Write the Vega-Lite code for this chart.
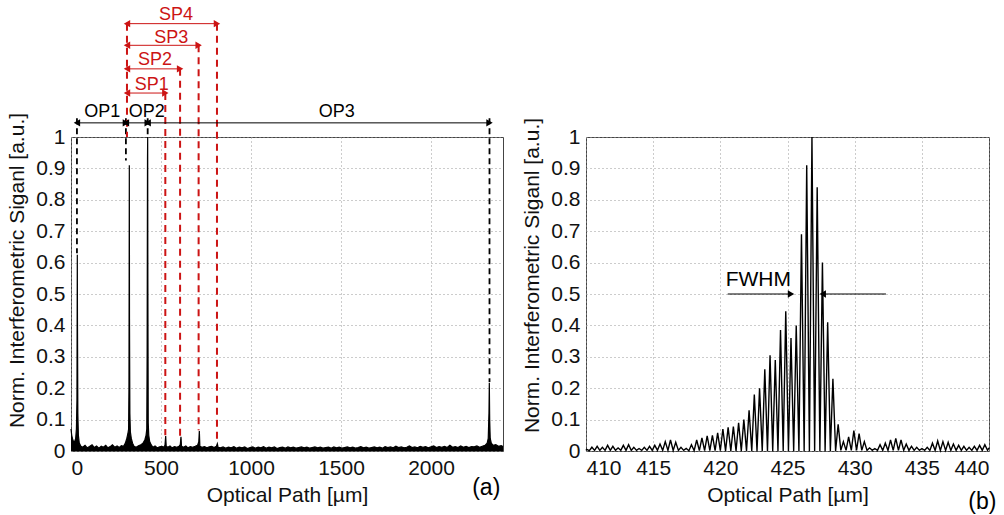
{
  "$schema": "https://vega.github.io/schema/vega-lite/v6.json",
  "background": "white",
  "padding": {"left": 6, "top": 5, "right": 5, "bottom": 5},
  "spacing": 15,
  "config": {
    "font": "Liberation Sans",
    "view": {"stroke": "#444", "strokeWidth": 1},
    "axis": {
      "labelFont": "Liberation Sans", "labelFontSize": 21, "labelColor": "#111", "labelOverlap": false,
      "titleFont": "Liberation Sans", "titleFontSize": 21, "titleFontWeight": "normal", "titleColor": "#111",
      "grid": true, "gridColor": "#999", "gridDash": [1, 3], "gridWidth": 1,
      "domain": false, "ticks": false, "labelPadding": 6
    }
  },
  "datasets": {
    "sigA": [
      {"x":0,"y":0.07},{"x":4,"y":0.05},{"x":8,"y":0.04},{"x":14,"y":0.03},{"x":20,"y":0.03},{"x":26,"y":0.04},{"x":30,"y":0.07},{"x":33,"y":0.16},{"x":35,"y":0.625},{"x":36,"y":0.41},{"x":38,"y":0.12},{"x":41,"y":0.05},{"x":46,"y":0.025},{"x":55,"y":0.015},{"x":65,"y":0.012},{"x":78,"y":0.018},{"x":90,"y":0.01},{"x":103,"y":0.014},{"x":117,"y":0.02},{"x":130,"y":0.011},{"x":142,"y":0.016},{"x":155,"y":0.009},{"x":168,"y":0.015},{"x":180,"y":0.012},{"x":193,"y":0.018},{"x":205,"y":0.01},{"x":218,"y":0.014},{"x":230,"y":0.02},{"x":243,"y":0.012},{"x":256,"y":0.016},{"x":268,"y":0.011},{"x":280,"y":0.017},{"x":292,"y":0.015},{"x":302,"y":0.025},{"x":310,"y":0.04},{"x":316,"y":0.055},{"x":320,"y":0.07},{"x":322,"y":0.2},{"x":323,"y":0.53},{"x":324,"y":0.91},{"x":325,"y":0.42},{"x":327,"y":0.12},{"x":330,"y":0.06},{"x":335,"y":0.04},{"x":342,"y":0.025},{"x":350,"y":0.015},{"x":362,"y":0.012},{"x":375,"y":0.017},{"x":388,"y":0.02},{"x":400,"y":0.025},{"x":410,"y":0.035},{"x":417,"y":0.05},{"x":421,"y":0.07},{"x":423,"y":0.32},{"x":425,"y":0.93},{"x":426,"y":1.0},{"x":427,"y":0.55},{"x":429,"y":0.09},{"x":432,"y":0.05},{"x":437,"y":0.03},{"x":445,"y":0.02},{"x":455,"y":0.012},{"x":467,"y":0.016},{"x":480,"y":0.01},{"x":492,"y":0.013},{"x":505,"y":0.015},{"x":515,"y":0.012},{"x":522,"y":0.018},{"x":526,"y":0.048},{"x":529,"y":0.015},{"x":538,"y":0.012},{"x":550,"y":0.016},{"x":562,"y":0.01},{"x":575,"y":0.014},{"x":588,"y":0.012},{"x":600,"y":0.015},{"x":607,"y":0.02},{"x":611,"y":0.045},{"x":614,"y":0.015},{"x":625,"y":0.012},{"x":638,"y":0.016},{"x":650,"y":0.01},{"x":663,"y":0.014},{"x":676,"y":0.012},{"x":690,"y":0.015},{"x":703,"y":0.018},{"x":710,"y":0.03},{"x":713,"y":0.064},{"x":716,"y":0.015},{"x":728,"y":0.012},{"x":742,"y":0.014},{"x":755,"y":0.01},{"x":768,"y":0.013},{"x":781,"y":0.015},{"x":795,"y":0.011},{"x":808,"y":0.015},{"x":813,"y":0.023},{"x":817,"y":0.012},{"x":830,"y":0.01},{"x":845,"y":0.013},{"x":860,"y":0.009},{"x":875,"y":0.012},{"x":890,"y":0.01},{"x":905,"y":0.014},{"x":920,"y":0.009},{"x":935,"y":0.012},{"x":950,"y":0.01},{"x":965,"y":0.013},{"x":980,"y":0.008},{"x":995,"y":0.011},{"x":1010,"y":0.013},{"x":1025,"y":0.009},{"x":1040,"y":0.012},{"x":1055,"y":0.01},{"x":1070,"y":0.014},{"x":1085,"y":0.009},{"x":1100,"y":0.012},{"x":1115,"y":0.01},{"x":1130,"y":0.013},{"x":1145,"y":0.008},{"x":1160,"y":0.011},{"x":1175,"y":0.012},{"x":1190,"y":0.009},{"x":1205,"y":0.013},{"x":1220,"y":0.01},{"x":1235,"y":0.012},{"x":1250,"y":0.009},{"x":1265,"y":0.011},{"x":1280,"y":0.013},{"x":1295,"y":0.01},{"x":1310,"y":0.012},{"x":1325,"y":0.009},{"x":1340,"y":0.011},{"x":1355,"y":0.013},{"x":1370,"y":0.01},{"x":1385,"y":0.012},{"x":1400,"y":0.009},{"x":1415,"y":0.011},{"x":1430,"y":0.012},{"x":1445,"y":0.009},{"x":1460,"y":0.013},{"x":1475,"y":0.01},{"x":1490,"y":0.012},{"x":1505,"y":0.009},{"x":1520,"y":0.011},{"x":1535,"y":0.013},{"x":1550,"y":0.01},{"x":1565,"y":0.012},{"x":1580,"y":0.009},{"x":1595,"y":0.011},{"x":1610,"y":0.014},{"x":1625,"y":0.01},{"x":1640,"y":0.012},{"x":1655,"y":0.009},{"x":1670,"y":0.011},{"x":1685,"y":0.013},{"x":1700,"y":0.01},{"x":1715,"y":0.012},{"x":1730,"y":0.009},{"x":1745,"y":0.014},{"x":1760,"y":0.011},{"x":1775,"y":0.013},{"x":1790,"y":0.01},{"x":1805,"y":0.015},{"x":1820,"y":0.011},{"x":1835,"y":0.013},{"x":1850,"y":0.01},{"x":1865,"y":0.012},{"x":1880,"y":0.016},{"x":1895,"y":0.011},{"x":1910,"y":0.013},{"x":1925,"y":0.01},{"x":1940,"y":0.015},{"x":1955,"y":0.012},{"x":1970,"y":0.014},{"x":1985,"y":0.01},{"x":2000,"y":0.013},{"x":2015,"y":0.016},{"x":2030,"y":0.011},{"x":2045,"y":0.014},{"x":2060,"y":0.012},{"x":2075,"y":0.015},{"x":2090,"y":0.011},{"x":2105,"y":0.018},{"x":2120,"y":0.012},{"x":2135,"y":0.014},{"x":2150,"y":0.011},{"x":2165,"y":0.016},{"x":2180,"y":0.012},{"x":2195,"y":0.015},{"x":2210,"y":0.011},{"x":2225,"y":0.014},{"x":2240,"y":0.013},{"x":2255,"y":0.016},{"x":2270,"y":0.012},{"x":2285,"y":0.015},{"x":2300,"y":0.018},{"x":2312,"y":0.025},{"x":2318,"y":0.04},{"x":2322,"y":0.12},{"x":2324,"y":0.217},{"x":2326,"y":0.1},{"x":2329,"y":0.04},{"x":2335,"y":0.025},{"x":2345,"y":0.018},{"x":2360,"y":0.02},{"x":2375,"y":0.015},{"x":2390,"y":0.017},{"x":2400,"y":0.014}
    ],
    "sigB": [
      {"x":410.0,"y":0.002},{"x":410.05,"y":0.005},{"x":410.25,"y":0.001},{"x":410.44,"y":0.012},{"x":410.64,"y":0.002},{"x":410.83,"y":0.015},{"x":411.03,"y":0.002},{"x":411.22,"y":0.012},{"x":411.42,"y":0.002},{"x":411.61,"y":0.018},{"x":411.81,"y":0.002},{"x":412.0,"y":0.015},{"x":412.2,"y":0.002},{"x":412.39,"y":0.01},{"x":412.59,"y":0.002},{"x":412.78,"y":0.018},{"x":412.98,"y":0.002},{"x":413.17,"y":0.02},{"x":413.37,"y":0.002},{"x":413.56,"y":0.012},{"x":413.76,"y":0.002},{"x":413.95,"y":0.008},{"x":414.15,"y":0.002},{"x":414.34,"y":0.012},{"x":414.54,"y":0.002},{"x":414.73,"y":0.015},{"x":414.93,"y":0.002},{"x":415.12,"y":0.018},{"x":415.32,"y":0.002},{"x":415.51,"y":0.022},{"x":415.71,"y":0.002},{"x":415.9,"y":0.03},{"x":416.1,"y":0.002},{"x":416.29,"y":0.035},{"x":416.49,"y":0.002},{"x":416.68,"y":0.028},{"x":416.88,"y":0.002},{"x":417.07,"y":0.012},{"x":417.27,"y":0.002},{"x":417.46,"y":0.008},{"x":417.66,"y":0.001},{"x":417.85,"y":0.02},{"x":418.05,"y":0.001},{"x":418.24,"y":0.035},{"x":418.44,"y":0.001},{"x":418.63,"y":0.042},{"x":418.83,"y":0.001},{"x":419.02,"y":0.048},{"x":419.22,"y":0.001},{"x":419.41,"y":0.05},{"x":419.61,"y":0.001},{"x":419.8,"y":0.058},{"x":420.0,"y":0.001},{"x":420.19,"y":0.07},{"x":420.39,"y":0},{"x":420.58,"y":0.075},{"x":420.78,"y":0},{"x":420.97,"y":0.078},{"x":421.17,"y":0},{"x":421.36,"y":0.09},{"x":421.56,"y":0},{"x":421.75,"y":0.1},{"x":421.95,"y":0},{"x":422.14,"y":0.13},{"x":422.34,"y":0},{"x":422.53,"y":0.18},{"x":422.73,"y":0},{"x":422.92,"y":0.2},{"x":423.12,"y":0},{"x":423.31,"y":0.26},{"x":423.51,"y":0},{"x":423.7,"y":0.305},{"x":423.9,"y":0},{"x":424.09,"y":0.29},{"x":424.29,"y":0},{"x":424.48,"y":0.385},{"x":424.68,"y":0},{"x":424.87,"y":0.445},{"x":425.07,"y":0},{"x":425.26,"y":0.36},{"x":425.46,"y":0},{"x":425.65,"y":0.4},{"x":425.85,"y":0},{"x":426.04,"y":0.69},{"x":426.24,"y":0},{"x":426.43,"y":0.91},{"x":426.63,"y":0},{"x":426.82,"y":1.0},{"x":427.02,"y":0},{"x":427.21,"y":0.84},{"x":427.41,"y":0},{"x":427.6,"y":0.6},{"x":427.8,"y":0},{"x":427.99,"y":0.41},{"x":428.19,"y":0},{"x":428.38,"y":0.23},{"x":428.58,"y":0},{"x":428.77,"y":0.085},{"x":428.97,"y":0.002},{"x":429.16,"y":0.03},{"x":429.36,"y":0.002},{"x":429.55,"y":0.045},{"x":429.75,"y":0.002},{"x":429.94,"y":0.065},{"x":430.14,"y":0.002},{"x":430.33,"y":0.055},{"x":430.53,"y":0.002},{"x":430.72,"y":0.03},{"x":430.92,"y":0.002},{"x":431.11,"y":0.01},{"x":431.31,"y":0.002},{"x":431.5,"y":0.008},{"x":431.7,"y":0.002},{"x":431.89,"y":0.02},{"x":432.09,"y":0.002},{"x":432.28,"y":0.025},{"x":432.48,"y":0.002},{"x":432.67,"y":0.035},{"x":432.87,"y":0.002},{"x":433.06,"y":0.04},{"x":433.26,"y":0.002},{"x":433.45,"y":0.035},{"x":433.65,"y":0.002},{"x":433.84,"y":0.022},{"x":434.04,"y":0.002},{"x":434.23,"y":0.015},{"x":434.43,"y":0.002},{"x":434.62,"y":0.012},{"x":434.82,"y":0.002},{"x":435.01,"y":0.008},{"x":435.21,"y":0.002},{"x":435.4,"y":0.012},{"x":435.6,"y":0.002},{"x":435.79,"y":0.025},{"x":435.99,"y":0.002},{"x":436.18,"y":0.032},{"x":436.38,"y":0.002},{"x":436.57,"y":0.03},{"x":436.77,"y":0.002},{"x":436.96,"y":0.028},{"x":437.16,"y":0.002},{"x":437.35,"y":0.022},{"x":437.55,"y":0.002},{"x":437.74,"y":0.018},{"x":437.94,"y":0.002},{"x":438.13,"y":0.015},{"x":438.33,"y":0.002},{"x":438.52,"y":0.012},{"x":438.72,"y":0.002},{"x":438.91,"y":0.015},{"x":439.11,"y":0.002},{"x":439.3,"y":0.018},{"x":439.5,"y":0.002},{"x":439.69,"y":0.02},{"x":439.89,"y":0.002},{"x":440.0,"y":0.01}
    ],
    "blackDash": [
      {"x":33,"y":1.06,"y2":0.63},{"x":305,"y":1.06,"y2":0.925},{"x":426,"y":1.06,"y2":1.0},{"x":2325,"y":1.06,"y2":0.22}
    ],
    "redDash": [
      {"x":311,"y":1.361,"y2":1.0},{"x":524,"y":1.14,"y2":0.05},{"x":606,"y":1.217,"y2":0.047},{"x":709,"y":1.292,"y2":0.066},{"x":811,"y":1.361,"y2":0.025}
    ],
    "opSegs": [
      {"x":33,"x2":305,"y":1.045},{"x":305,"x2":426,"y":1.045},{"x":426,"x2":2325,"y":1.045}
    ],
    "opHeads": [
      {"x":33,"y":1.045,"d":"L"},{"x":305,"y":1.045,"d":"R"},{"x":305,"y":1.045,"d":"L"},{"x":426,"y":1.045,"d":"R"},{"x":426,"y":1.045,"d":"L"},{"x":2325,"y":1.045,"d":"R"}
    ],
    "spSegs": [
      {"x":311,"x2":524,"y":1.14},{"x":311,"x2":606,"y":1.217},{"x":311,"x2":709,"y":1.292},{"x":311,"x2":811,"y":1.361}
    ],
    "spHeads": [
      {"x":311,"y":1.14,"d":"L"},{"x":524,"y":1.14,"d":"R"},{"x":311,"y":1.217,"d":"L"},{"x":606,"y":1.217,"d":"R"},{"x":311,"y":1.292,"d":"L"},{"x":709,"y":1.292,"d":"R"},{"x":311,"y":1.361,"d":"L"},{"x":811,"y":1.361,"d":"R"}
    ],
    "opLabels": [
      {"x":174,"y":1.08,"t":"OP1"},{"x":421,"y":1.08,"t":"OP2"},{"x":1477,"y":1.08,"t":"OP3"}
    ],
    "spLabels": [
      {"x":449,"y":1.166,"t":"SP1"},{"x":467,"y":1.244,"t":"SP2"},{"x":557,"y":1.315,"t":"SP3"},{"x":584,"y":1.39,"t":"SP4"}
    ],
    "tagA": [{"x":2307,"y":-0.118,"t":"(a)"}],
    "fwhmSegs": [
      {"x":420.55,"x2":425.26,"y":0.5},{"x":427.62,"x2":432.33,"y":0.5}
    ],
    "fwhmHeads": [
      {"x":425.26,"y":0.5,"d":"R"},{"x":427.62,"y":0.5,"d":"L"}
    ],
    "fwhmLabel": [{"x":422.83,"y":0.545,"t":"FWHM"}],
    "tagB": [{"x":439.5,"y":-0.161,"t":"(b)"}]
  },
  "hconcat": [
    {
      "width": 432,
      "height": 314,
      "encoding": {
        "x": {"field": "x", "type": "quantitative", "scale": {"domain": [0, 2400], "nice": false, "zero": false},
              "axis": {"title": "Optical Path [µm]", "values": [0, 500, 1000, 1500, 2000], "format": "d", "titlePadding": 6}},
        "y": {"field": "y", "type": "quantitative", "scale": {"domain": [0, 1], "nice": false},
              "axis": {"title": "Norm. Interferometric Siganl [a.u.]", "values": [0,0.1,0.2,0.3,0.4,0.5,0.6,0.7,0.8,0.9,1], "format": "~g", "titleY": 133, "titlePadding": 8}}
      },
      "layer": [
        {"data": {"name": "sigA"}, "mark": {"type": "area", "color": "black", "opacity": 1}},
        {"data": {"name": "sigA"}, "mark": {"type": "line", "color": "black", "strokeWidth": 1.2}},
        {
          "data": {"name": "blackDash"},
          "mark": {"type": "rule", "color": "black", "strokeWidth": 1.8, "strokeDash": [6, 4]},
          "encoding": {"y2": {"field": "y2"}}
        },
        {
          "data": {"name": "redDash"},
          "mark": {"type": "rule", "color": "#cc1414", "strokeWidth": 2, "strokeDash": [7, 5]},
          "encoding": {"y2": {"field": "y2"}}
        },
        {
          "data": {"name": "opSegs"},
          "mark": {"type": "rule", "color": "black", "strokeWidth": 1},
          "encoding": {"x2": {"field": "x2"}}
        },
        {
          "data": {"name": "spSegs"},
          "mark": {"type": "rule", "color": "#cc1414", "strokeWidth": 1},
          "encoding": {"x2": {"field": "x2"}}
        },
        {
          "data": {"name": "opHeads"},
          "mark": {"type": "point", "filled": true, "color": "black", "size": 55, "opacity": 1},
          "encoding": {
            "shape": {"field": "d", "type": "nominal", "scale": {"domain": ["L", "R"], "range": ["triangle-left", "triangle-right"]}, "legend": null},
            "xOffset": {"field": "d", "type": "nominal", "scale": {"domain": ["L", "R"], "range": [4, -4]}}
          }
        },
        {
          "data": {"name": "spHeads"},
          "mark": {"type": "point", "filled": true, "color": "#cc1414", "size": 55, "opacity": 1},
          "encoding": {
            "shape": {"field": "d", "type": "nominal", "scale": {"domain": ["L", "R"], "range": ["triangle-left", "triangle-right"]}, "legend": null},
            "xOffset": {"field": "d", "type": "nominal", "scale": {"domain": ["L", "R"], "range": [4, -4]}}
          }
        },
        {
          "data": {"name": "opLabels"},
          "mark": {"type": "text", "color": "black", "fontSize": 18, "font": "Liberation Sans"},
          "encoding": {"text": {"field": "t"}}
        },
        {
          "data": {"name": "spLabels"},
          "mark": {"type": "text", "color": "#cc1414", "fontSize": 18, "font": "Liberation Sans"},
          "encoding": {"text": {"field": "t"}}
        },
        {
          "data": {"name": "tagA"},
          "mark": {"type": "text", "color": "black", "fontSize": 23, "font": "Liberation Sans"},
          "encoding": {"text": {"field": "t"}}
        }
      ]
    },
    {
      "width": 403,
      "height": 314,
      "encoding": {
        "x": {"field": "x", "type": "quantitative", "scale": {"domain": [410, 440], "nice": false, "zero": false},
              "axis": {"title": "Optical Path [µm]", "values": [410, 415, 420, 425, 430, 435, 440], "titlePadding": 6}},
        "y": {"field": "y", "type": "quantitative", "scale": {"domain": [0, 1], "nice": false},
              "axis": {"title": "Norm. Interferometric Siganl [a.u.]", "values": [0,0.1,0.2,0.3,0.4,0.5,0.6,0.7,0.8,0.9,1], "format": "~g", "titleY": 138, "titlePadding": 8}}
      },
      "layer": [
        {"data": {"name": "sigB"}, "mark": {"type": "line", "color": "black", "strokeWidth": 1.4}},
        {
          "data": {"name": "fwhmSegs"},
          "mark": {"type": "rule", "color": "black", "strokeWidth": 1},
          "encoding": {"x2": {"field": "x2"}}
        },
        {
          "data": {"name": "fwhmHeads"},
          "mark": {"type": "point", "filled": true, "color": "black", "size": 55, "opacity": 1},
          "encoding": {
            "shape": {"field": "d", "type": "nominal", "scale": {"domain": ["L", "R"], "range": ["triangle-left", "triangle-right"]}, "legend": null},
            "xOffset": {"field": "d", "type": "nominal", "scale": {"domain": ["L", "R"], "range": [4, -4]}}
          }
        },
        {
          "data": {"name": "fwhmLabel"},
          "mark": {"type": "text", "color": "black", "fontSize": 21, "font": "Liberation Sans"},
          "encoding": {"text": {"field": "t"}}
        },
        {
          "data": {"name": "tagB"},
          "mark": {"type": "text", "color": "black", "fontSize": 23, "font": "Liberation Sans"},
          "encoding": {"text": {"field": "t"}}
        }
      ]
    }
  ]
}
